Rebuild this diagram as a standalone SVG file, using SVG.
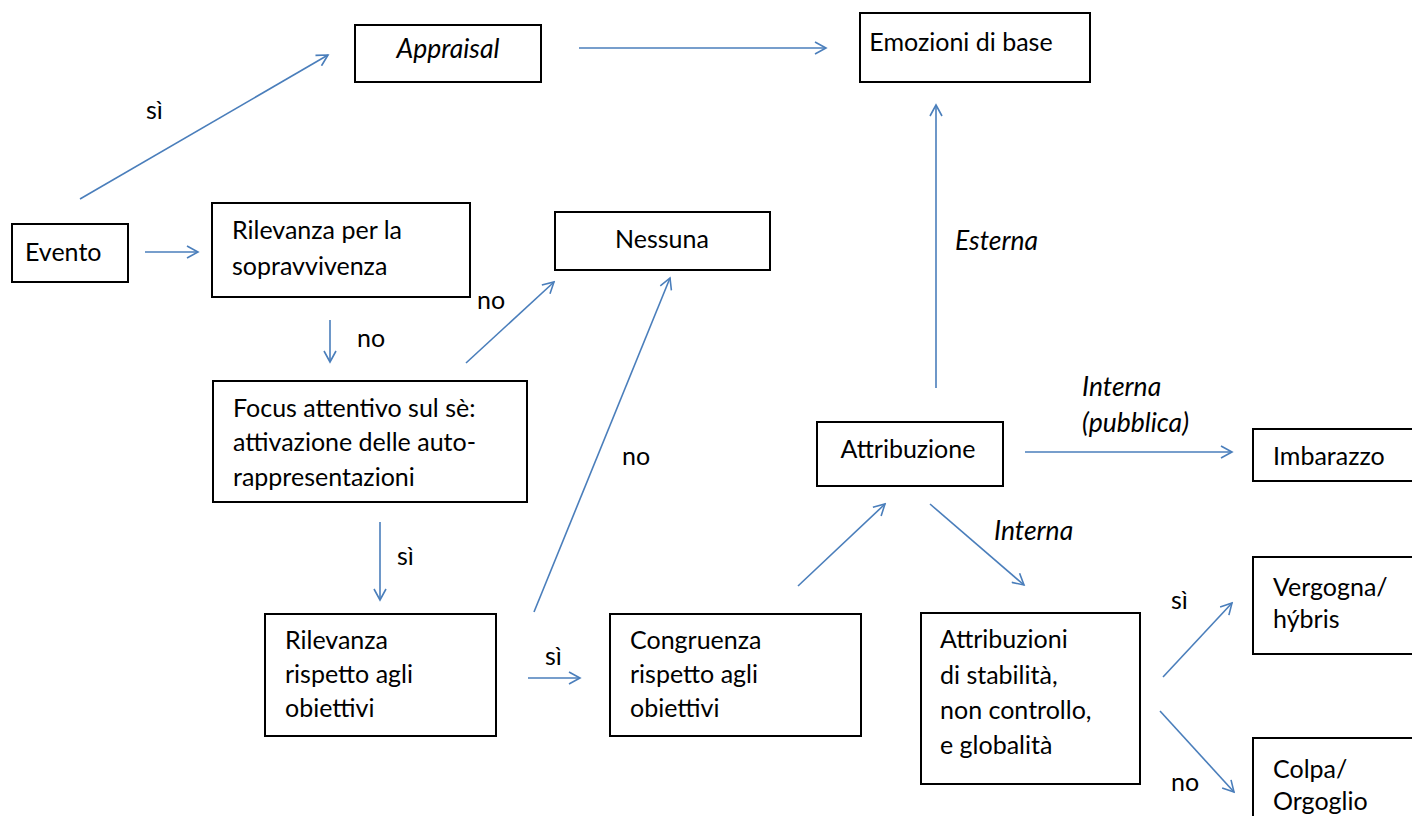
<svg xmlns="http://www.w3.org/2000/svg" width="1412" height="816" viewBox="0 0 1412 816">
  <style>
    text { font-family: Lato, "Open Sans", "Liberation Sans", sans-serif; font-size: 25px; fill: #000; }
    .it { font-style: italic; font-size: 26.5px; }
    .box { fill: #fff; stroke: #000; stroke-width: 2; }
    .c { text-anchor: middle; }
    .arr { fill: none; stroke: #4a7ebb; stroke-width: 1.6; marker-end: url(#head); }
  </style>
  <defs>
    <marker id="head" viewBox="0 0 14 14" refX="12" refY="7" markerWidth="14" markerHeight="14" markerUnits="userSpaceOnUse" orient="auto">
      <path d="M1,1 L12,7 L1,13" fill="none" stroke="#4a7ebb" stroke-width="1.6"/>
    </marker>
  </defs>
  <rect width="1412" height="816" fill="#fff"/>

  <g id="connectors">
    <line class="arr" x1="80" y1="199" x2="328" y2="55"/>
    <line class="arr" x1="579" y1="48" x2="826" y2="48"/>
    <line class="arr" x1="145" y1="252" x2="198" y2="252"/>
    <line class="arr" x1="330" y1="320" x2="330" y2="362"/>
    <line class="arr" x1="466" y1="363" x2="554" y2="282"/>
    <line class="arr" x1="534" y1="612" x2="670" y2="278"/>
    <line class="arr" x1="380" y1="522" x2="380" y2="600"/>
    <line class="arr" x1="528" y1="678" x2="580" y2="678"/>
    <line class="arr" x1="798" y1="586" x2="885" y2="504"/>
    <line class="arr" x1="936" y1="388" x2="936" y2="105"/>
    <line class="arr" x1="1025" y1="452" x2="1232" y2="452"/>
    <line class="arr" x1="930" y1="504" x2="1024" y2="585"/>
    <line class="arr" x1="1163" y1="677" x2="1232" y2="603"/>
    <line class="arr" x1="1160" y1="711" x2="1234" y2="792"/>
  </g>

  <g id="labels">
    <text x="146" y="119">sì</text>
    <text x="357" y="347">no</text>
    <text x="477" y="309">no</text>
    <text x="622" y="465">no</text>
    <text x="397" y="565">sì</text>
    <text x="545" y="665">sì</text>
    <text class="it" x="955" y="250">Esterna</text>
    <text class="it" x="1082" y="396">Interna</text>
    <text class="it" x="1082" y="432">(pubblica)</text>
    <text class="it" x="994" y="540">Interna</text>
    <text x="1171" y="609">sì</text>
    <text x="1171" y="791">no</text>
  </g>

  <g id="appraisal">
    <rect class="box" x="355" y="25" width="186" height="57"/>
    <text class="it c" x="448" y="58">Appraisal</text>
  </g>
  <g id="emozioni-base">
    <rect class="box" x="860" y="13" width="230" height="69"/>
    <text class="c" x="961" y="51">Emozioni di base</text>
  </g>
  <g id="evento">
    <rect class="box" x="12" y="224" width="116" height="58"/>
    <text x="25" y="261">Evento</text>
  </g>
  <g id="rilevanza-sopravvivenza">
    <rect class="box" x="212" y="203" width="258" height="94"/>
    <text x="232" y="239">Rilevanza per la</text>
    <text x="232" y="275">sopravvivenza</text>
  </g>
  <g id="nessuna">
    <rect class="box" x="555" y="212" width="215" height="58"/>
    <text class="c" x="662" y="248">Nessuna</text>
  </g>
  <g id="focus">
    <rect class="box" x="213" y="381" width="314" height="121"/>
    <text x="233" y="417">Focus attentivo sul sè:</text>
    <text x="233" y="451">attivazione delle auto-</text>
    <text x="233" y="486">rappresentazioni</text>
  </g>
  <g id="rilevanza-obiettivi">
    <rect class="box" x="265" y="614" width="231" height="122"/>
    <text x="285" y="649">Rilevanza</text>
    <text x="285" y="683">rispetto agli</text>
    <text x="285" y="717">obiettivi</text>
  </g>
  <g id="congruenza">
    <rect class="box" x="610" y="614" width="251" height="122"/>
    <text x="630" y="649">Congruenza</text>
    <text x="630" y="683">rispetto agli</text>
    <text x="630" y="717">obiettivi</text>
  </g>
  <g id="attribuzione">
    <rect class="box" x="817" y="422" width="186" height="64"/>
    <text class="c" x="908" y="458">Attribuzione</text>
  </g>
  <g id="imbarazzo">
    <rect class="box" x="1253" y="429" width="170" height="52"/>
    <text x="1273" y="465">Imbarazzo</text>
  </g>
  <g id="attribuzioni-stabilita">
    <rect class="box" x="921" y="613" width="219" height="171"/>
    <text x="940" y="648">Attribuzioni</text>
    <text x="940" y="684">di stabilità,</text>
    <text x="940" y="719">non controllo,</text>
    <text x="940" y="754">e globalità</text>
  </g>
  <g id="vergogna">
    <rect class="box" x="1253" y="557" width="170" height="97"/>
    <text x="1273" y="596">Vergogna/</text>
    <text x="1273" y="628">hýbris</text>
  </g>
  <g id="colpa">
    <rect class="box" x="1253" y="738" width="170" height="100"/>
    <text x="1273" y="778">Colpa/</text>
    <text x="1273" y="810">Orgoglio</text>
  </g>
</svg>
